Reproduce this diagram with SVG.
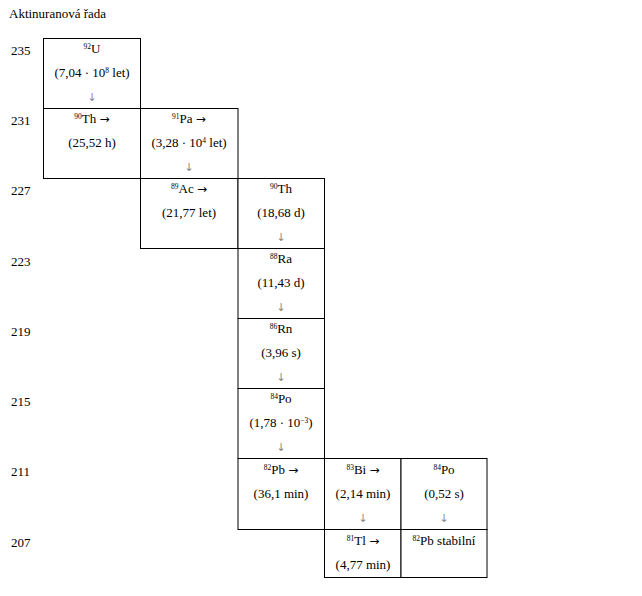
<svg xmlns="http://www.w3.org/2000/svg" width="642" height="596" viewBox="0 0 642 596">
<style>
text{font-family:"Liberation Serif","DejaVu Serif",serif;font-size:13px;fill:#000}
.c{text-anchor:middle}
.sup{font-size:7.5px}
.da{fill:#888;font-size:11px;font-family:"DejaVu Sans",sans-serif}
.ra{font-family:"DejaVu Sans",sans-serif;font-size:12px}
.cell{fill:#fff;stroke:#000;stroke-width:1}
</style>
<rect width="642" height="596" fill="#fff"/>
<text x="9" y="18">Aktinuranová řada</text>
<g id="labels">
<text x="11" y="55">235</text>
<text x="11" y="125">231</text>
<text x="11" y="195">227</text>
<text x="11" y="266">223</text>
<text x="11" y="336">219</text>
<text x="11" y="406">215</text>
<text x="11" y="476">211</text>
<text x="11" y="547">207</text>
</g>
<g id="U235"><rect class="cell" x="43.5" y="38.5" width="97" height="70"/>
<text class="c" x="92" y="53"><tspan class="sup" dy="-4">92</tspan><tspan dy="4">U</tspan></text>
<text class="c" x="92" y="77">(7,04 · 10<tspan class="sup" dy="-4">8</tspan><tspan dy="4"> let)</tspan></text>
<text class="c da" x="92" y="101">↓</text></g>
<g id="Th231"><rect class="cell" x="43.5" y="108.5" width="97" height="70"/>
<text class="c" x="92" y="123"><tspan class="sup" dy="-4">90</tspan><tspan dy="4">Th </tspan><tspan class="ra">→</tspan></text>
<text class="c" x="92" y="147">(25,52 h)</text></g>
<g id="Pa231"><rect class="cell" x="140.5" y="108.5" width="97.5" height="70"/>
<text class="c" x="189" y="123"><tspan class="sup" dy="-4">91</tspan><tspan dy="4">Pa </tspan><tspan class="ra">→</tspan></text>
<text class="c" x="189" y="147">(3,28 · 10<tspan class="sup" dy="-4">4</tspan><tspan dy="4"> let)</tspan></text>
<text class="c da" x="189" y="171">↓</text></g>
<g id="Ac227"><rect class="cell" x="140.5" y="178.5" width="97.5" height="70"/>
<text class="c" x="189" y="193"><tspan class="sup" dy="-4">89</tspan><tspan dy="4">Ac </tspan><tspan class="ra">→</tspan></text>
<text class="c" x="189" y="217">(21,77 let)</text></g>
<g id="Th227"><rect class="cell" x="238" y="178.5" width="86.5" height="70"/>
<text class="c" x="281" y="193"><tspan class="sup" dy="-4">90</tspan><tspan dy="4">Th</tspan></text>
<text class="c" x="281" y="217">(18,68 d)</text>
<text class="c da" x="281" y="241">↓</text></g>
<g id="Ra223"><rect class="cell" x="238" y="248.5" width="86.5" height="70"/>
<text class="c" x="281" y="263"><tspan class="sup" dy="-4">88</tspan><tspan dy="4">Ra</tspan></text>
<text class="c" x="281" y="287">(11,43 d)</text>
<text class="c da" x="281" y="311">↓</text></g>
<g id="Rn219"><rect class="cell" x="238" y="318.5" width="86.5" height="70"/>
<text class="c" x="281" y="333"><tspan class="sup" dy="-4">86</tspan><tspan dy="4">Rn</tspan></text>
<text class="c" x="281" y="357">(3,96 s)</text>
<text class="c da" x="281" y="381">↓</text></g>
<g id="Po215"><rect class="cell" x="238" y="388.5" width="86.5" height="70"/>
<text class="c" x="281" y="403"><tspan class="sup" dy="-4">84</tspan><tspan dy="4">Po</tspan></text>
<text class="c" x="281" y="427">(1,78 · 10<tspan class="sup" dy="-4">−3</tspan><tspan dy="4">)</tspan></text>
<text class="c da" x="281" y="451">↓</text></g>
<g id="Pb211"><rect class="cell" x="238" y="458.5" width="86.5" height="71"/>
<text class="c" x="281" y="474"><tspan class="sup" dy="-4">82</tspan><tspan dy="4">Pb </tspan><tspan class="ra">→</tspan></text>
<text class="c" x="281" y="498">(36,1 min)</text></g>
<g id="Bi211"><rect class="cell" x="324.5" y="458.5" width="76.5" height="71"/>
<text class="c" x="363" y="474"><tspan class="sup" dy="-4">83</tspan><tspan dy="4">Bi </tspan><tspan class="ra">→</tspan></text>
<text class="c" x="363" y="498">(2,14 min)</text>
<text class="c da" x="363" y="522">↓</text></g>
<g id="Po211"><rect class="cell" x="401" y="458.5" width="86" height="71"/>
<text class="c" x="444" y="474"><tspan class="sup" dy="-4">84</tspan><tspan dy="4">Po</tspan></text>
<text class="c" x="444" y="498">(0,52 s)</text>
<text class="c da" x="444" y="522">↓</text></g>
<g id="Tl207"><rect class="cell" x="324.5" y="529.5" width="76.5" height="48"/>
<text class="c" x="363" y="545"><tspan class="sup" dy="-4">81</tspan><tspan dy="4">Tl </tspan><tspan class="ra">→</tspan></text>
<text class="c" x="363" y="569">(4,77 min)</text></g>
<g id="Pb207"><rect class="cell" x="401" y="529.5" width="86" height="48"/>
<text class="c" x="444" y="545"><tspan class="sup" dy="-4">82</tspan><tspan dy="4">Pb stabilní</tspan></text></g>
<g id="connectors"></g>
</svg>
